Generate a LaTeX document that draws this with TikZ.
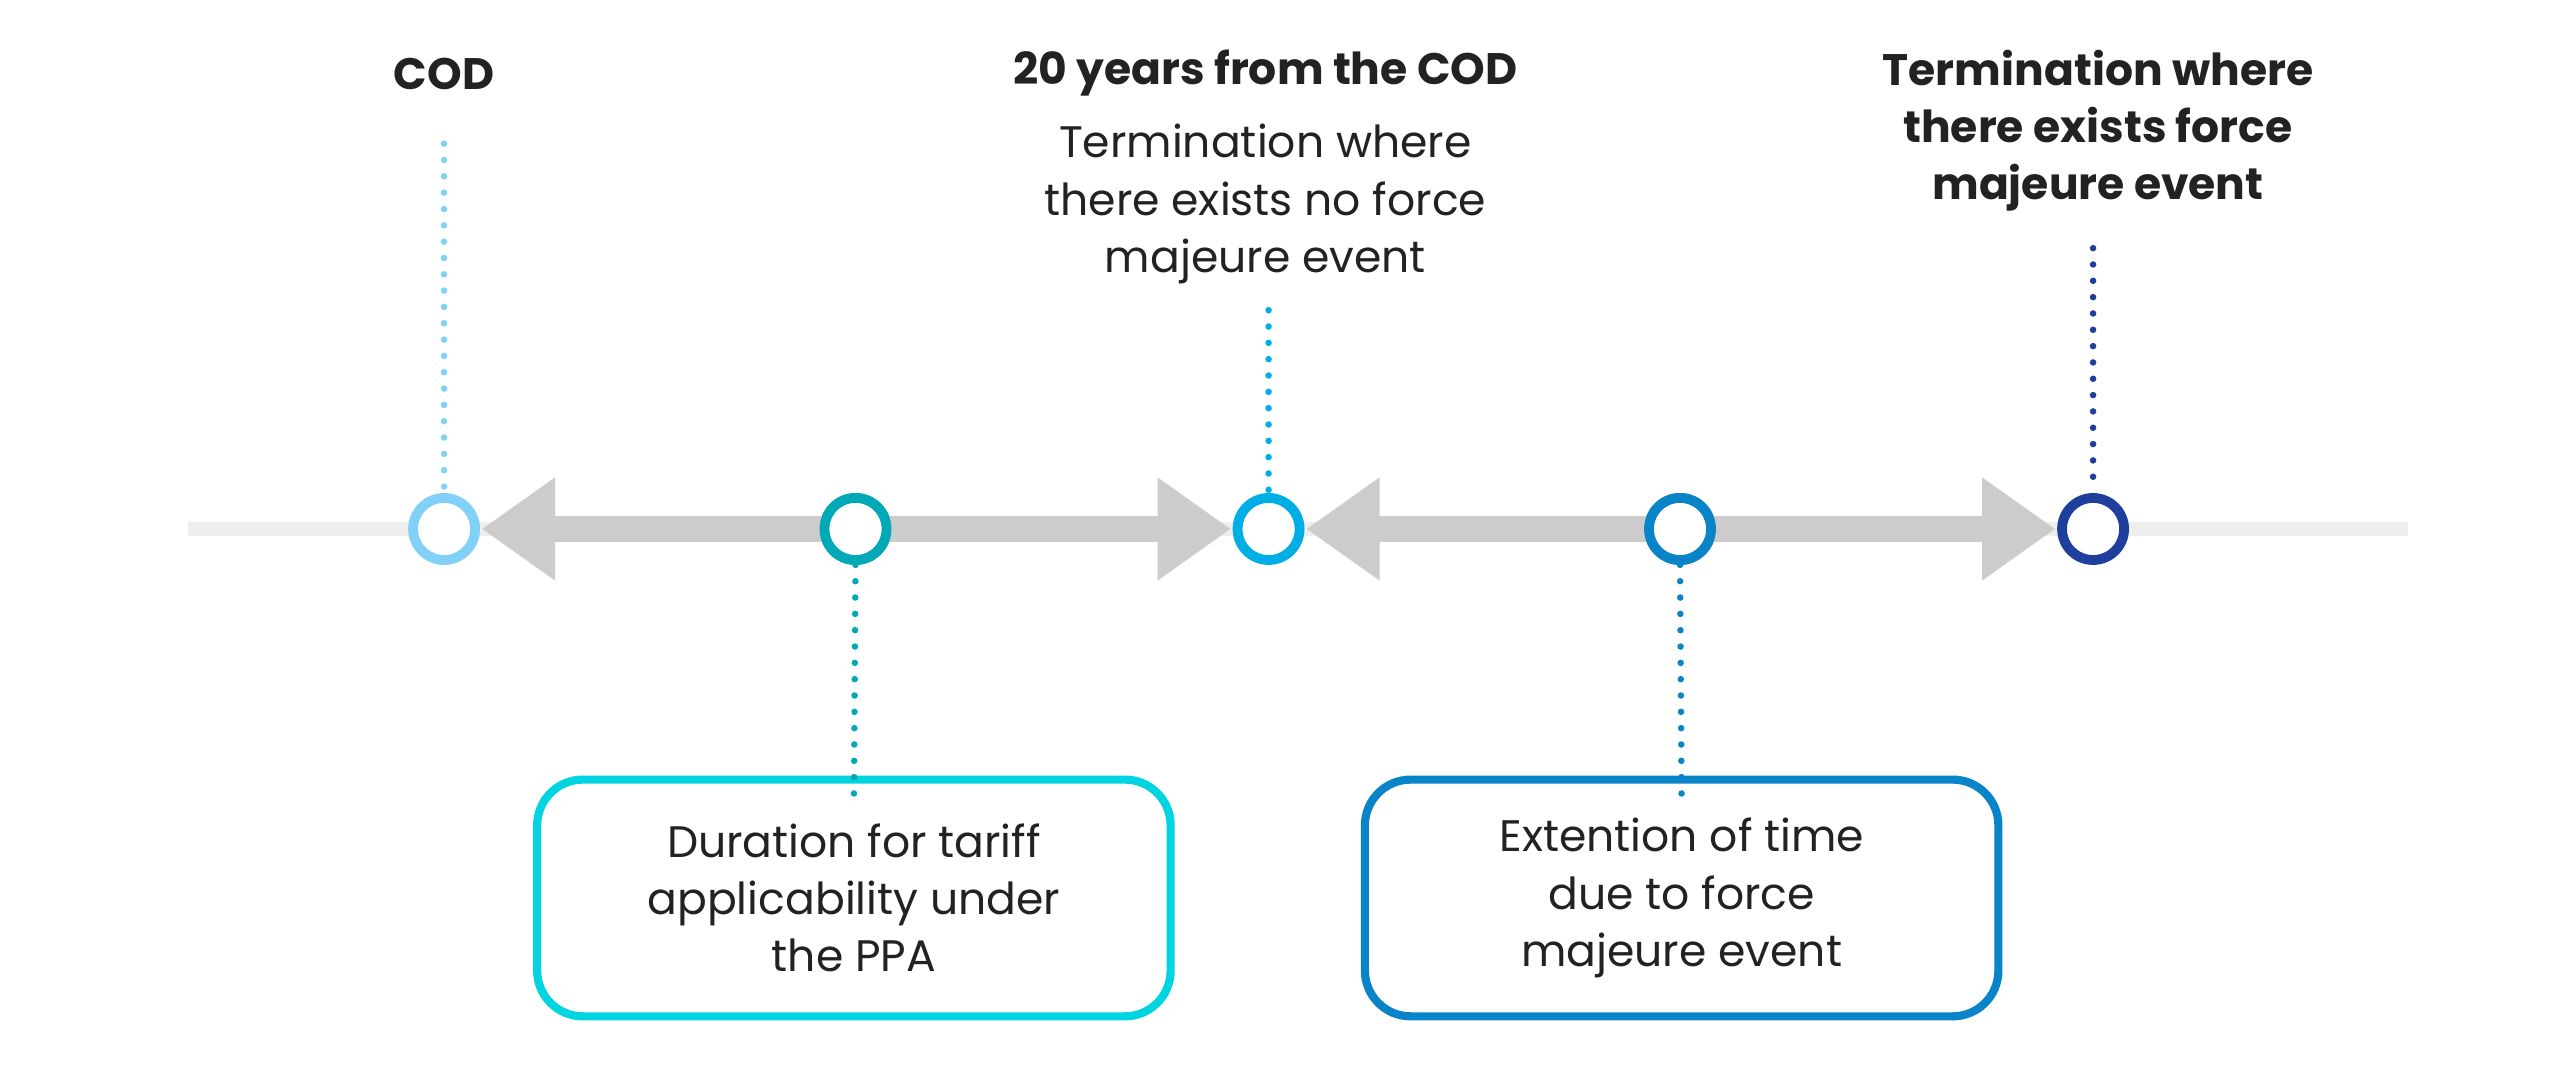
\documentclass[tikz,border=0pt]{standalone}
\usepackage{fontspec}
\setmainfont{Poppins}
\usetikzlibrary{arrows.meta}
\definecolor{c1}{HTML}{80D0F8}
\definecolor{c2}{HTML}{00A9B5}
\definecolor{c3}{HTML}{00AEE6}
\definecolor{c4}{HTML}{0A84C8}
\definecolor{c5}{HTML}{1F3F9F}
\definecolor{bx1}{HTML}{00D4E0}
\definecolor{tx}{HTML}{222222}
\begin{document}
\begin{tikzpicture}[x=1pt,y=-1pt,
  dot/.style={circle,draw=#1,line width=6pt,fill=white,minimum size=38pt,inner sep=0pt},
  dline/.style={#1,line width=4pt,line cap=round,dash pattern=on 0pt off 10pt},
  garrow/.style={draw={rgb,255:red,204;green,204;blue,204},line width=16pt,{Triangle[length=45pt,width=60pt]}-{Triangle[length=45pt,width=60pt]}},
  lbl/.style={text=tx,align=center,font=\fontsize{27}{35}\selectfont},
  box/.style={draw=#1,line width=5pt,rounded corners=28pt,fill=white,minimum width=388pt,minimum height=145pt,text=tx,align=center,font=\fontsize{27}{35}\selectfont}]
\useasboundingbox (0,0) rectangle (1568,666);
\fill[white] (0,0) rectangle (1568,666);
\draw[line width=8pt,color={rgb,255:red,238;green,238;blue,238}] (115,324) -- (1475,324);
\node[dot=c1] (p1) at (272,324) {};
\node[dot=c2] (p2) at (524,324) {};
\node[dot=c3] (p3) at (777,324) {};
\node[dot=c4] (p4) at (1029,324) {};
\node[dot=c5] (p5) at (1282,324) {};
\draw[garrow,shorten <=1pt,shorten >=1pt] (p1.east) -- (p3.west);
\draw[garrow,shorten <=1pt,shorten >=1pt] (p3.east) -- (p5.west);
\node[dot=c2] at (p2) {};
\node[dot=c4] at (p4) {};
\coordinate (t1) at (272,88);
\coordinate (t3) at (777,190);
\coordinate (t5) at (1282,152);
\draw[dline=c1] (t1) -- (p1.north);
\draw[dline=c3] (t3) -- (p3.north);
\draw[dline=c5] (t5) -- (p5.north);
\node[lbl,font=\fontsize{27}{35}\selectfont\bfseries] (l1) at (272,45) {COD};
\node[lbl,font=\fontsize{27}{35}\selectfont\bfseries] (l3a) at (775,45) {20 years from the COD};
\node[lbl] (l3b) at (775,125) {Termination where\\there exists no force\\majeure event};
\node[lbl,font=\fontsize{27}{35}\selectfont\bfseries] (l5) at (1285,80) {Termination where\\there exists force\\majeure event};
\node[box=bx1] (b1) at (523,550) {Duration for tariff\\applicability under\\the PPA};
\node[box=c4] (b2) at (1030,550) {Extention of time\\due to force\\majeure event};
\draw[dline=c2] (p2.south) -- ([yshift=-17pt]b1.north);
\draw[dline=c4] (p4.south) -- ([yshift=-17pt]b2.north);
\end{tikzpicture}
\end{document}
